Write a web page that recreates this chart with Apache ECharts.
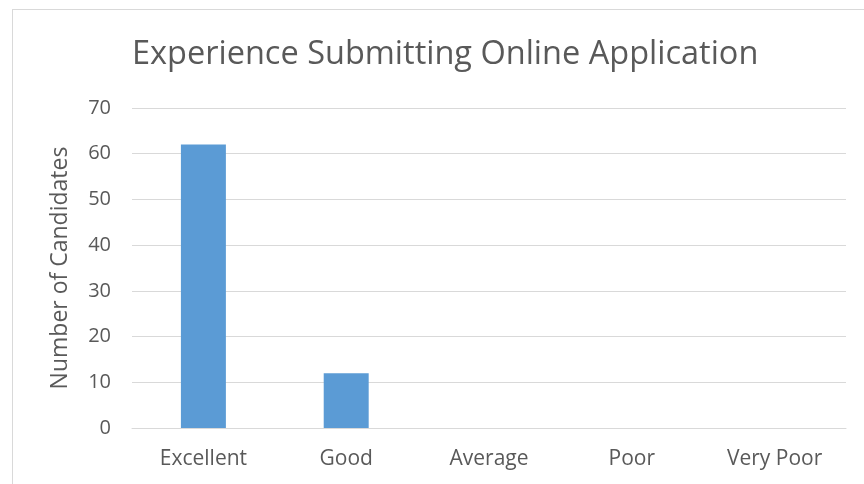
<!DOCTYPE html>
<html>
<head>
    <meta charset="UTF-8">
    <title></title>
    <script type="text/javascript" src="https://cdn.jsdelivr.net/npm/echarts@6/dist/echarts.min.js"></script>
    <style>
        body,html{ padding:0px; margin:0px; background:#fff;}
        #frame{ position:absolute; left:12px; top:9px; width:900px; height:520px; border:1px solid #d9d9d9; box-sizing:border-box;}
        #chart_box{ position:absolute; left:0; top:0; width:864px; height:484px;}
    </style>
</head>
<body>
<div id="frame"></div>
<div id="chart_box"></div>
<script type="text/javascript">
    // data
    var categories = ['Excellent', 'Good', 'Average', 'Poor', 'Very Poor'];
    var candidates = [62, 12, 0, 0, 0];
    var yTicks = { min: 0, max: 70, interval: 10 };

    var textColor = '#595959';
    var fontName = 'Open Sans';

    var myChart = echarts.init(document.getElementById('chart_box'));

    var option = {
        animation: false,
        title: {
            text: 'Experience Submitting Online Application',
            left: 127,
            top: 33,
            textStyle: { color: textColor, fontSize: 32.5, fontWeight: 'normal', fontFamily: fontName }
        },
        grid: { left: 132, right: 18, top: 108, bottom: 56, containLabel: false },
        xAxis: {
            type: 'category',
            data: categories,
            axisLine: { lineStyle: { color: '#d9d9d9' } },
            axisTick: { show: false },
            axisLabel: { color: textColor, fontSize: 21, fontFamily: fontName, margin: 21 }
        },
        yAxis: {
            type: 'value',
            min: yTicks.min,
            max: yTicks.max,
            interval: yTicks.interval,
            name: 'Number of Candidates',
            nameLocation: 'middle',
            nameGap: 60,
            nameTextStyle: { color: textColor, fontSize: 23, fontFamily: fontName },
            axisLine: { show: false },
            axisTick: { show: false },
            axisLabel: { color: textColor, fontSize: 20, fontFamily: fontName, margin: 21 },
            splitLine: { lineStyle: { color: '#d9d9d9' } }
        },
        series: [{
            type: 'bar',
            data: candidates,
            barWidth: '31.5%',
            itemStyle: { color: '#5b9bd5' }
        }]
    };

    myChart.setOption(option);
</script>
</body>
</html>
